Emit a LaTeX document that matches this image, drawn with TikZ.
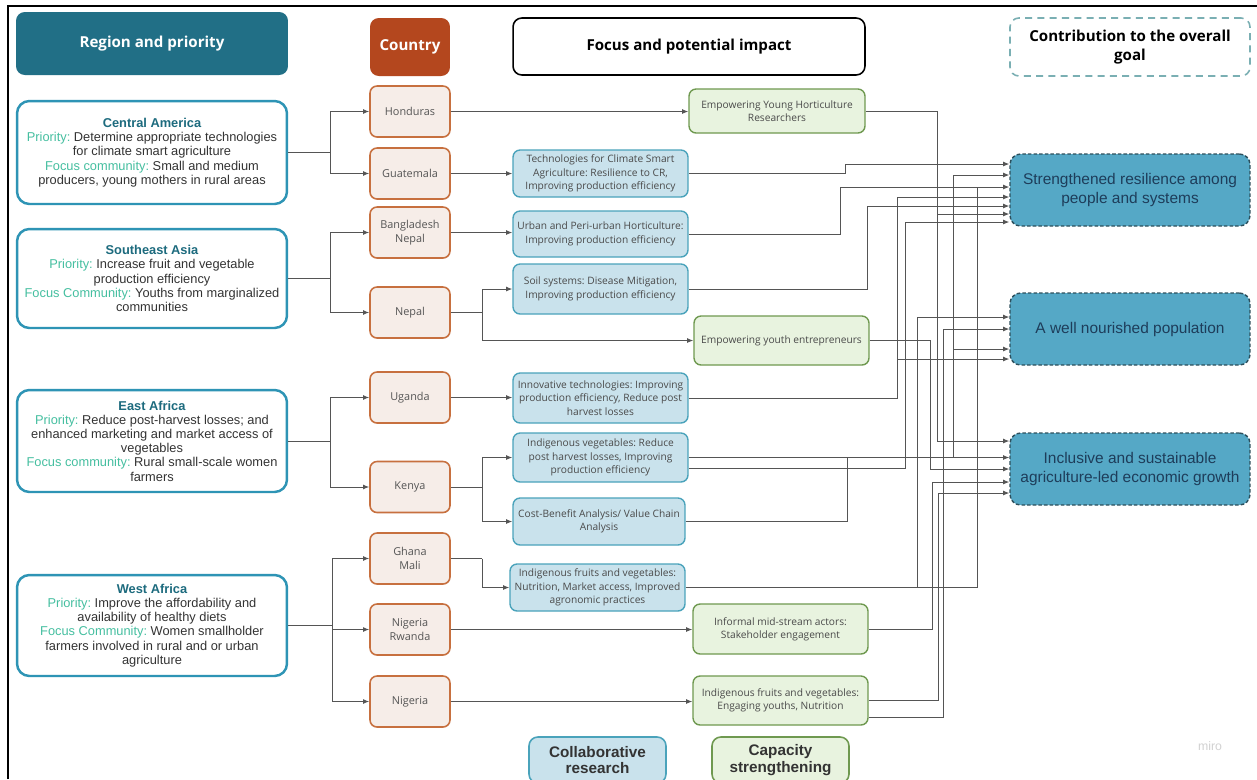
\documentclass[tikz,border=0pt]{standalone}
\usepackage{fontspec}
\setmainfont{Liberation Sans}
\newfontfamily\osans{Open Sans}
\usetikzlibrary{arrows.meta}
\frenchspacing
\definecolor{hteal}{HTML}{216F86}
\definecolor{hcty}{HTML}{B4471E}
\definecolor{regb}{HTML}{2E94B5}
\definecolor{regh}{HTML}{1D6B7E}
\definecolor{pri}{HTML}{45BFA0}
\definecolor{txt}{HTML}{333333}
\definecolor{ctyb}{HTML}{C7703F}
\definecolor{ctyf}{HTML}{F6EDE8}
\definecolor{ctxt}{HTML}{555555}
\definecolor{blub}{HTML}{4AA3BB}
\definecolor{bluf}{HTML}{C9E2EC}
\definecolor{grnb}{HTML}{6F9950}
\definecolor{grnf}{HTML}{E8F3DF}
\definecolor{ftxt}{HTML}{4A4A4A}
\definecolor{goalf}{HTML}{55A8C6}
\definecolor{goalb}{HTML}{2D4F5C}
\definecolor{goalt}{HTML}{1E3D5A}
\definecolor{conb}{HTML}{7AAFB3}
\definecolor{lnc}{HTML}{555555}
\begin{document}
\frenchspacing
\begin{tikzpicture}[x=0.02cm,y=-0.02cm,
  hdr/.style={rounded corners=5pt, inner sep=0pt, align=center, font=\osans\bfseries\fontsize{8.6}{10.4}\selectfont},
  region/.style={draw=regb, line width=1.4pt, fill=white, rounded corners=7pt, minimum width=5.4cm, align=center, inner sep=0pt, font=\frenchspacing\fontsize{7.3}{8.1}\selectfont, text=txt},
  cty/.style={draw=ctyb, fill=ctyf, line width=0.9pt, rounded corners=4pt, minimum width=1.6cm, minimum height=1.02cm, inner sep=0pt, align=center, font=\osans\fontsize{6.2}{8}\selectfont, text=ctxt},
  blu/.style={draw=blub, fill=bluf, line width=0.8pt, rounded corners=4pt, minimum width=3.5cm, inner sep=0pt, align=center, font=\frenchspacing\osans\fontsize{5.8}{7.6}\selectfont, text=ftxt},
  grn/.style={draw=grnb, fill=grnf, line width=0.8pt, rounded corners=4pt, minimum width=3.5cm, inner sep=0pt, align=center, font=\frenchspacing\osans\fontsize{5.8}{7.6}\selectfont, text=ftxt},
  goal/.style={draw=goalb, dash pattern=on 2pt off 1.2pt, fill=goalf, line width=0.8pt, rounded corners=6pt, minimum width=4.8cm, minimum height=1.44cm, inner sep=0pt, align=center, font=\fontsize{8.8}{10.4}\selectfont, text=goalt},
  legend/.style={line width=0.9pt, rounded corners=5pt, minimum width=2.74cm, minimum height=0.92cm, inner sep=0pt, align=center, font=\bfseries\fontsize{8.7}{9.6}\selectfont, text=txt},
  conn/.style={draw=lnc, line width=0.55pt},
  arr/.style={conn, -{Latex[length=3.5pt,width=2.8pt]}}
]
\useasboundingbox (0,0) rectangle (1257,779);
\clip (0,0) rectangle (1257,779);
\fill[white] (0,0) rectangle (1257,779);
% frame
\draw[line width=1.1pt, black] (8,779) -- (8,6) -- (1257,6);

% headers
\node[hdr, fill=hteal, text=white, minimum width=5.44cm, minimum height=1.26cm] (hreg) at (152,43.5) {Region and priority};
\node[hdr, fill=hcty, text=white, minimum width=1.6cm, minimum height=1.16cm] (hcty) at (410,47) {Country};
\node[hdr, draw=black, line width=0.9pt, fill=white, text=black, minimum width=7.04cm, minimum height=1.14cm] (hfoc) at (689,46.5) {Focus and potential impact};
\node[hdr, draw=conb, line width=0.9pt, dash pattern=on 4pt off 3pt, fill=white, text=black, minimum width=4.8cm, minimum height=1.16cm] (hcon) at (1130,47) {Contribution to the overall\\goal};

% regions
\node[region, minimum height=2.06cm] (ca) at (152,152.5) {{\color{regh}\bfseries Central America}\\{\color{pri}Priority:} Determine appropriate technologies\\for climate smart agriculture\\{\color{pri}Focus community:} Small and medium\\producers, young mothers in rural areas};
\node[region, minimum height=1.98cm] (sea) at (152,278.5) {{\color{regh}\bfseries Southeast Asia}\\{\color{pri}Priority:} Increase fruit and vegetable\\production efficiency\\{\color{pri}Focus Community:} Youths from marginalized\\communities};
\node[region, minimum height=2.04cm] (ea) at (152,441) {{\color{regh}\bfseries East Africa}\\{\color{pri}Priority:} Reduce post-harvest losses; and\\enhanced marketing and market access of\\vegetables\\{\color{pri}Focus community:} Rural small-scale women\\farmers};
\node[region, minimum height=2.02cm] (wa) at (152,625.5) {{\color{regh}\bfseries West Africa}\\{\color{pri}Priority:} Improve the affordability and\\availability of healthy diets\\{\color{pri}Focus Community:} Women smallholder\\farmers involved in rural and or urban\\agriculture};

% countries
\node[cty] (hon) at (410,111.5) {Honduras};
\node[cty] (gua) at (410,173.5) {Guatemala};
\node[cty] (ban) at (410,232.5) {Bangladesh\\Nepal};
\node[cty] (nep) at (410,312.5) {Nepal};
\node[cty] (uga) at (410,397.5) {Uganda};
\node[cty] (ken) at (410,487) {Kenya};
\node[cty] (gha) at (410,558.5) {Ghana\\Mali};
\node[cty] (nr) at (410,629.5) {Nigeria\\Rwanda};
\node[cty] (nig) at (410,701.5) {Nigeria};

% collaborative research boxes
\node[blu, minimum height=0.94cm] (tcsa) at (600.5,173.5) {Technologies for Climate Smart\\Agriculture: Resilience to CR,\\Improving production efficiency};
\node[blu, minimum height=0.92cm] (urb) at (600.5,234) {Urban and Peri-urban Horticulture:\\Improving production efficiency};
\node[blu, minimum height=1.0cm] (soil) at (600.5,289) {Soil systems: Disease Mitigation,\\Improving production efficiency};
\node[blu, minimum height=1.0cm] (inn) at (600.5,398) {Innovative technologies: Improving\\production efficiency, Reduce post\\harvest losses};
\node[blu, minimum height=0.98cm] (iv) at (600.5,457.5) {Indigenous vegetables: Reduce\\post harvest losses, Improving\\production efficiency};
\node[blu, minimum height=0.94cm, minimum width=3.44cm] (cba) at (599,521.5) {Cost-Benefit Analysis/ Value Chain\\Analysis};
\node[blu, minimum height=0.94cm] (ifg) at (597.5,587.5) {Indigenous fruits and vegetables:\\Nutrition, Market access, Improved\\agronomic practices};

% capacity strengthening boxes
\node[grn, minimum height=0.88cm, minimum width=3.52cm] (yhr) at (777,111) {Empowering Young Horticulture\\Researchers};
\node[grn, minimum height=0.98cm] (yen) at (781.5,340.5) {Empowering youth entrepreneurs};
\node[grn, minimum height=1.0cm] (inf) at (780.5,629) {Informal mid-stream actors:\\Stakeholder engagement};
\node[grn, minimum height=0.98cm] (ifn) at (780.5,700.5) {Indigenous fruits and vegetables:\\Engaging youths, Nutrition};

% goals
\node[goal] (g1) at (1130,190) {Strengthened resilience among\\people and systems};
\node[goal] (g2) at (1130,329) {A well nourished population};
\node[goal] (g3) at (1130,469) {Inclusive and sustainable\\agriculture-led economic growth};

% legend
\node[legend, draw=blub, fill=bluf] (lcr) at (597.5,760) {Collaborative\\research};
\node[legend, draw=grnb, fill=grnf] (lcs) at (780.5,760) {Capacity\\strengthening};

\node[text=gray!35, font=\fontsize{7}{8}\selectfont] (miro) at (1210,746) {miro};

% region -> country
\coordinate (jca) at (330,0 |- ca.east);
\draw[conn] (ca.east) -- (jca);
\draw[arr] (jca) |- (hon.west);
\draw[arr] (jca) |- (gua.west);
\coordinate (jsea) at (330,0 |- sea.east);
\draw[conn] (sea.east) -- (jsea);
\draw[arr] (jsea) |- (ban.west);
\draw[arr] (jsea) |- (nep.west);
\coordinate (jea) at (330,0 |- ea.east);
\draw[conn] (ea.east) -- (jea);
\draw[arr] (jea) |- (uga.west);
\draw[arr] (jea) |- (ken.west);
\coordinate (jwa) at (332,0 |- wa.east);
\draw[conn] (wa.east) -- (jwa);
\draw[arr] (jwa) |- (gha.west);
\draw[arr] (jwa) |- (nr.west);
\draw[arr] (jwa) |- (nig.west);

% country -> focus
\draw[arr] (hon.east) -- (yhr.west |- hon.east);
\draw[arr] (gua.east) -- (tcsa.west |- gua.east);
\draw[arr] (ban.east) -- (urb.west |- ban.east);
\coordinate (jnep) at (482,0 |- nep.east);
\draw[conn] (nep.east) -- (jnep);
\draw[arr] (jnep) |- (soil.west);
\draw[arr] (jnep) |- (yen.west);
\draw[arr] (uga.east) -- (inn.west |- uga.east);
\coordinate (jken) at (482,0 |- ken.east);
\draw[conn] (ken.east) -- (jken);
\draw[arr] (jken) |- (iv.west);
\draw[arr] (jken) |- (cba.west);
\coordinate (jgha) at (482,0 |- gha.east);
\draw[conn] (gha.east) -- (jgha);
\draw[arr] (jgha) |- (ifg.west);
\draw[arr] (nr.east) -- (inf.west |- nr.east);
\draw[arr] (nig.east) -- (ifn.west |- nig.east);

% focus -> goals
\draw[conn] (yhr.east) -- (937,0 |- yhr.east) -- (937,441);
\draw[arr] (937,214) -- (g1.west |- 0,214);
\draw[arr] (937,441) -- (g3.west |- 0,441);
\draw[arr] (tcsa.east) -- (845,0 |- tcsa.east) -- (845,164) -- (g1.west |- 0,164);
\draw[arr] (urb.east) -- (840,0 |- urb.east) -- (840,187) -- (g1.west |- 0,187);
\draw[arr] (soil.east) -- (867,0 |- soil.east) -- (867,206) -- (g1.west |- 0,206);
\draw[arr] (inn.east) -- (897,0 |- inn.east) -- (897,197) -- (g1.west |- 0,197);
\draw[arr] (897,359) -- (g2.west |- 0,359);
\draw[arr] (iv.east) -- (g3.west |- iv.east);
\draw[conn] (953,0 |- iv.east) -- (953,175);
\draw[arr] (953,349) -- (g2.west |- 0,349);
\draw[arr] (953,175) -- (g1.west |- 0,175);
\draw[arr] (iv.east |- 0,468) -- (905,468) -- (905,222) -- (g1.west |- 0,222);
\draw[conn] (cba.east) -- (847,0 |- cba.east) -- (847,0 |- iv.east);
\draw[conn] (ifg.east) -- (977,0 |- ifg.east) -- (977,187);
\draw[arr] (917,0 |- ifg.east) -- (917,317) -- (g2.west |- 0,317);
\draw[arr] (yen.east) -- (930,0 |- yen.east) -- (930,469) -- (g3.west |- 0,469);
\draw[arr] (inf.east) -- (932,0 |- inf.east) -- (932,482) -- (g3.west |- 0,482);
\draw[arr] (ifn.east |- 0,700) -- (938,700) -- (938,493) -- (g3.west |- 0,493);
\draw[arr] (ifn.east |- 0,717) -- (943,717) -- (943,329) -- (g2.west |- 0,329);
\end{tikzpicture}
\end{document}
